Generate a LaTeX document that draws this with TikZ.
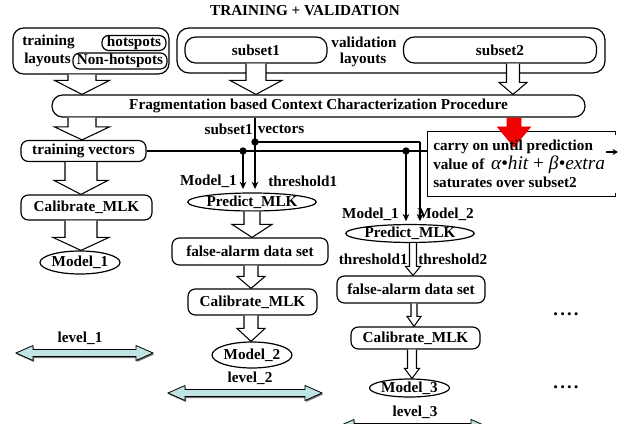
\documentclass[tikz,border=0pt]{standalone}
\usepackage{fontspec}
\setmainfont{Liberation Serif}
\usetikzlibrary{arrows.meta,calc,shapes.geometric}
\definecolor{lvl}{RGB}{190,228,228}
\definecolor{redarr}{RGB}{240,0,0}
\newcommand\hollowarr[7][harr]{%
  \path[#1] let \p0=(#2,0), \p1=(#3), \p2=(#4) in
   (\x0-#5*0.75pt,\y1) -- (\x0-#5*0.75pt,\y2+#7*0.75pt) -- (\x0-#6*0.75pt,\y2+#7*0.75pt) -- (\x0,\y2)
   -- (\x0+#6*0.75pt,\y2+#7*0.75pt) -- (\x0+#5*0.75pt,\y2+#7*0.75pt) -- (\x0+#5*0.75pt,\y1);
}
\newcommand\dblarr[3]{%
  \fill[black!55] ({#1+1},{#3+1.5}) -- ({#1+18},{#3-6}) -- ({#1+18},{#3-2}) -- ({#2-16},{#3-2}) -- ({#2-16},{#3-6}) -- ({#2+1},{#3+1.5})
     -- ({#2-16},{#3+9}) -- ({#2-16},{#3+5}) -- ({#1+18},{#3+5}) -- ({#1+18},{#3+9}) -- cycle;
  \draw[fill=lvl, line width=0.6pt] (#1,#3) -- ({#1+17},{#3-7.5}) -- ({#1+17},{#3-3.5}) -- ({#2-17},{#3-3.5}) -- ({#2-17},{#3-7.5}) -- (#2,#3)
     -- ({#2-17},{#3+7.5}) -- ({#2-17},{#3+3.5}) -- ({#1+17},{#3+3.5}) -- ({#1+17},{#3+7.5}) -- cycle;
}
\begin{document}
\begin{tikzpicture}[x=0.75pt,y=-0.75pt,
  every node/.style={font=\fontsize{11.4}{13}\selectfont\bfseries, inner sep=0pt},
  sz/.style 2 args={minimum width=#1*0.75pt, minimum height=#2*0.75pt},
  rbox/.style={draw, rounded corners=5.5pt, line width=0.9pt},
  ell/.style={draw, ellipse, line width=0.9pt},
  harr/.style={draw, fill=white, line width=0.8pt, line join=miter},
  rarr/.style={draw=redarr, fill=redarr, line width=0.5pt, line join=miter},
  conn/.style={line width=1.6pt},
  tip/.style={-{Stealth[length=5.5pt,width=5pt]}},
  dot/.style={circle, fill, minimum size=5.5pt, inner sep=0pt}
]
\useasboundingbox (0,0) rectangle (624,424);

% title
\node (title) at (305,11) {TRAINING + VALIDATION};

% training layouts
\node[rbox, rounded corners=8pt, sz={156}{46}] (trn) at (91,51) {};
\node[anchor=west] (trnt) at (22,42) {training};
\node[anchor=west] (lay1) at (24,60) {layouts};
\node[rbox, rounded corners=5pt, sz={64}{15}] (hot) at (134,43) {hotspots};
\node[rbox, rounded corners=5pt, sz={94}{16}] (nhot) at (120,61) {Non-hotspots};

% validation layouts
\node[rbox, rounded corners=9pt, sz={428}{45}] (val) at (391,50.5) {};
\node[rbox, rounded corners=8pt, sz={142}{26}] (sub1) at (256,50) {subset1};
\node (valt) at (364,42) {validation};
\node (lay2) at (363,60) {layouts};
\node[rbox, rounded corners=8pt, sz={193}{26}] (sub2) at (500,50) {subset2};

% fragmentation
\node[rbox, rounded corners=8pt, sz={533}{22}] (frag) at (318.5,106) {Fragmentation based Context Characterization Procedure};

% column 1
\node[rbox, sz={125}{21}] (tv) at (83.5,151) {training vectors};
\node[rbox, sz={131}{25}] (cal1) at (86.5,207.5) {Calibrate\_MLK};
\node[ell, sz={68}{23}] (m1) at (80,262.5) {Model\_1};

% column 2
\node[ell, sz={112}{18}] (p1) at (252,202) {Predict\_MLK};
\node[rbox, sz={156}{27}] (fa1) at (250,251.5) {false-alarm data set};
\node[rbox, sz={129}{26}] (cal2) at (252.5,302) {Calibrate\_MLK};
\node[ell, sz={68}{26}] (m2) at (252,355) {Model\_2};

% column 3
\node[ell, sz={114}{17}] (p2) at (410,233.5) {Predict\_MLK};
\node[rbox, sz={148}{27}] (fa2) at (411,289.5) {false-alarm data set};
\node[rbox, sz={129}{22}] (cal3) at (415.5,338) {Calibrate\_MLK};
\node[ell, sz={67}{18}] (m3) at (409.5,388) {Model\_3};

% carry-on box
\node[sz={187}{64}] (carry) at (521.5,164) {};
\draw[line width=0.8pt] ($(carry.north east)+(0,3)$) -- (carry.north east) -- (carry.north west) -- (carry.south west) -- (carry.south east) -- ++(0,-3);
\coordinate (co1) at (606,152);
\coordinate (co2) at (618,152);
\draw[line width=0.8pt, -{Stealth[length=4pt,width=4.5pt]}] (co1) -- (co2);

% hollow arrows
\hollowarr{82}{trn.south}{frag.north}{14}{27.5}{14}
\hollowarr{256}{sub1.south}{frag.north}{10}{26}{14}
\hollowarr{513}{sub2.south}{frag.north}{6.5}{14}{12}
\hollowarr{82}{frag.south}{tv.north}{14}{27.5}{13}
\hollowarr{81}{tv.south}{cal1.north}{16}{27}{14}
\hollowarr{81}{cal1.south}{m1.north}{16}{28}{13}
\hollowarr{252}{p1.south}{fa1.north}{8}{20}{13}
\hollowarr{251}{fa1.south}{cal2.north}{7}{14}{12}
\hollowarr{251}{cal2.south}{m2.north}{7}{14}{13}
\hollowarr{413}{p2.south}{fa2.north}{3.5}{7.5}{9}
\hollowarr{414}{fa2.south}{cal3.north}{3}{7}{10}
\hollowarr{412}{cal3.south}{m3.north}{4.5}{7.5}{10}
\coordinate (redtip) at (514,147);
\hollowarr[rarr]{514}{frag.south}{redtip}{7}{16.5}{20}

% carry-on text
\node[anchor=west] (c1) at (433,147) {carry on until prediction};
\node[anchor=west] (c2) at (433,164.5) {value of\hspace{5pt}{\fontsize{14.5}{16}\selectfont\mdseries\itshape α•hit {\upshape+} β•extra}};
\node[anchor=west] (c3) at (433,182) {saturates over subset2};

% vector connectors
\coordinate (d1) at (243,151);
\coordinate (d2) at (406,151);
\coordinate (s1) at (255,142);
\coordinate (s2) at (420,142);
\draw[conn] (tv.east) -- (carry.west |- tv.east);
\draw[conn] (frag.south -| s1) -- (s1) -- (s2);
\draw[conn,tip,shorten >=2.5pt] (s1) -- (s1 |- p1.north);
\draw[conn,tip,shorten >=2.5pt] (d1) -- (d1 |- p1.north);
\draw[conn,tip,shorten >=2pt] (s2) -- (s2 |- p2.north);
\draw[conn,tip,shorten >=2pt] (d2) -- (d2 |- p2.north);
\node[dot] (dd1) at (d1) {};
\node[dot] (dd2) at (d2) {};
\node[dot] (ds1) at (s1) {};

% labels
\node[anchor=east] (lsv1) at (253,129) {subset1};
\node[anchor=west] (lsv2) at (257.5,129) {vectors};
\node[anchor=east] (lm1a) at (237,181) {Model\_1};
\node[anchor=west] (lth1a) at (268,181) {threshold1};
\node[anchor=east] (lm1b) at (399,214) {Model\_1};
\node[anchor=west] (lm2b) at (417,214) {Model\_2};
\node[anchor=east] (lth1b) at (408,259) {threshold1};
\node[anchor=west] (lth2b) at (418,259) {threshold2};

% levels
\dblarr{16}{153}{353}
\dblarr{168}{322}{393}
\dblarr{337}{488}{427}
\node (lv1) at (80,338) {level\_1};
\node (lv2) at (250,378) {level\_2};
\node (lv3) at (415,412) {level\_3};

% continuation dots
\node (dots1) at (566,314) {\fontsize{14}{14}\selectfont .\hspace{1.6pt}.\hspace{1.6pt}.\hspace{1.6pt}.};
\node (dots2) at (566,387) {\fontsize{14}{14}\selectfont .\hspace{1.6pt}.\hspace{1.6pt}.\hspace{1.6pt}.};
\end{tikzpicture}
\end{document}
